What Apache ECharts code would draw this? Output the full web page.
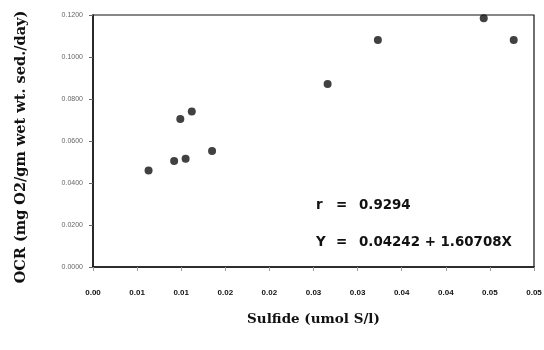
<!DOCTYPE html>
<html>
<head>
<meta charset="utf-8">
<script src="https://cdn.jsdelivr.net/npm/echarts@6/dist/echarts.min.js"></script>
<style>html,body{margin:0;padding:0;background:#fff}#c{width:544px;height:350px}</style>
</head>
<body>
<div id="c"></div>
<script>
const sulfide = [0.0063, 0.0092, 0.0099, 0.0105, 0.0112, 0.0135, 0.0266, 0.0323, 0.0443, 0.0477];
const ocr = [0.0459, 0.0505, 0.0705, 0.0516, 0.0740, 0.0552, 0.0871, 0.1081, 0.1184, 0.1081];
const xTitle = 'Sulfide (umol S/l)';
const yTitle = 'OCR (mg O2/gm wet wt. sed./day)';
const statLabels = ['r', 'Y'];
const statValues = ['0.9294', '0.04242 + 1.60708X'];

const chart = echarts.init(document.getElementById('c'), null, {renderer: 'canvas'});
const font = 'bold 13.4px "DejaVu Sans"';
const graphics = [];
statLabels.forEach((lab, i) => {
  const top = 199 + i * 37;
  graphics.push({type: 'text', left: 316, top: top, style: {text: lab, font: font, fill: '#111'}});
  graphics.push({type: 'text', left: 336, top: top, style: {text: '=', font: font, fill: '#111'}});
  graphics.push({type: 'text', left: 359, top: top, style: {text: statValues[i], font: font, fill: '#111'}});
});
chart.setOption({
  animation: false,
  backgroundColor: '#fff',
  grid: {left: 93, right: 10, top: 15, bottom: 83, show: true, borderColor: '#111', borderWidth: 1.2,
    outerBoundsMode: 'none', containLabel: false},
  xAxis: {
    type: 'value', min: 0, max: 0.05, interval: 0.005,
    axisLine: {show: true, onZero: false, lineStyle: {color: '#111', width: 1.5}},
    axisTick: {show: true, length: 4, lineStyle: {color: '#999'}},
    splitLine: {show: false},
    axisLabel: {margin: 22, fontSize: 8, fontWeight: 'bold', color: '#111', fontFamily: 'Liberation Sans',
      formatter: v => (Math.round(v * 100 + 1e-6) / 100).toFixed(2)},
    name: xTitle, nameLocation: 'middle', nameGap: 45,
    nameTextStyle: {fontFamily: 'DejaVu Serif', fontWeight: 'bold', fontSize: 13.5, color: '#111'}
  },
  yAxis: {
    type: 'value', min: 0, max: 0.12, interval: 0.02,
    axisLine: {show: true, lineStyle: {color: '#111', width: 1.5}},
    axisTick: {show: true, length: 4, lineStyle: {color: '#666'}},
    splitLine: {show: false},
    axisLabel: {margin: 10, fontSize: 7, color: '#666', fontFamily: 'Liberation Sans',
      formatter: v => v.toFixed(4)},
    name: yTitle, nameLocation: 'middle', nameGap: 64,
    nameTextStyle: {fontFamily: 'DejaVu Serif', fontWeight: 'bold', fontSize: 14.5, color: '#111',
      padding: [0, 12, 0, 0]}
  },
  series: [{
    type: 'scatter',
    data: sulfide.map((x, i) => [x, ocr[i]]),
    symbol: 'circle', symbolSize: 8,
    itemStyle: {color: '#111'}
  }],
  graphic: graphics
});
</script>
</body>
</html>
